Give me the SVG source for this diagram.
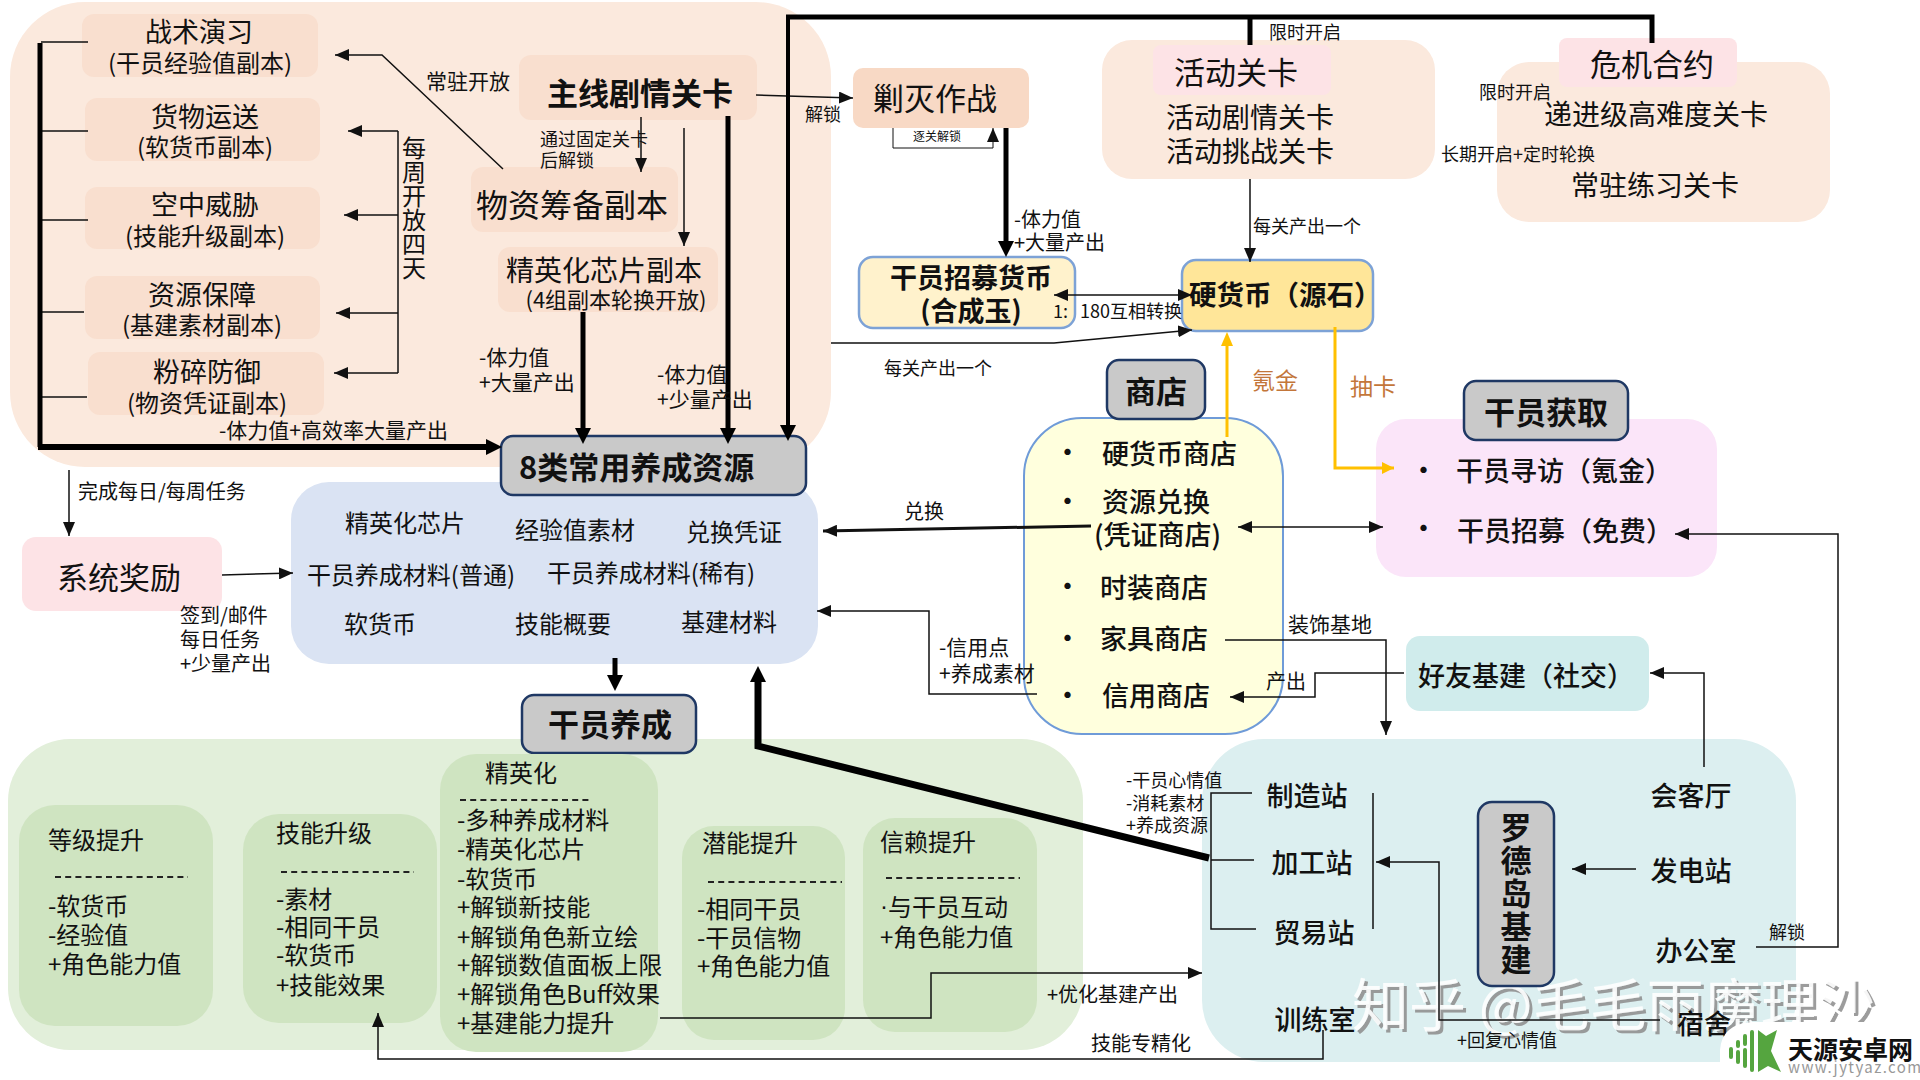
<svg xmlns="http://www.w3.org/2000/svg" width="1920" height="1080" viewBox="0 0 1920 1080">
<style>
text{font-family:"Noto Sans CJK SC","Noto Sans",sans-serif;fill:#111;dominant-baseline:central;transform:translateY(-2px)}
.c{text-anchor:middle}
.t31{font-size:31px}.t27{font-size:27px}.t24{font-size:24px}.t21{font-size:21px}.t20{font-size:20px}.t18{font-size:18px}
.b{font-weight:700}.m{font-weight:500}
.panel{stroke:none}
.peach{fill:#fbe9dd}.peach2{fill:#f9dfcf}.pink{fill:#fde3e6}.card{fill:#cfe4c1}
.head{fill:#c9c9c9;stroke:#1f3864;stroke-width:2.5}
.ln{fill:none;stroke:#111;stroke-width:1.5}
.th{fill:none;stroke:#000;stroke-width:5}
.or{fill:none;stroke:#ffc000;stroke-width:3}
.ds{stroke:#222;stroke-width:2;stroke-dasharray:6 4.2}
.a{marker-end:url(#ar)}.ta{marker-end:url(#tar)}.da{marker-end:url(#ar);marker-start:url(#ar)}.oa{marker-end:url(#oar)}
.cg{fill:#c3763a}
.wm{font-size:57px;fill:#fff;fill-opacity:.88;filter:url(#sh)}
</style>
<defs>
<marker id="ar" markerUnits="userSpaceOnUse" markerWidth="14" markerHeight="12" refX="14" refY="6" orient="auto-start-reverse"><path d="M0 0L14 6L0 12Z" fill="#111"/></marker>
<marker id="tar" markerUnits="userSpaceOnUse" markerWidth="16" markerHeight="16" refX="8" refY="8" orient="auto"><path d="M0 0L16 8L0 16Z" fill="#000"/></marker>
<marker id="oar" markerUnits="userSpaceOnUse" markerWidth="12" markerHeight="12" refX="12" refY="6" orient="auto"><path d="M0 0L12 6L0 12Z" fill="#ffc000"/></marker>
<filter id="sh" x="-5%" y="-20%" width="110%" height="140%"><feDropShadow dx="3" dy="3" stdDeviation="0.6" flood-color="#8f8f8f"/></filter>
</defs>

<g id="panels">
<rect id="panel-stages" class="panel peach" x="10" y="2" width="821" height="465" rx="75"/>
<rect id="panel-resources" class="panel" x="291" y="482" width="527" height="182" rx="38" fill="#dae3f3"/>
<rect id="panel-growth" class="panel" x="8" y="739" width="1075" height="311" rx="62" fill="#e2efda"/>
<rect id="panel-base" class="panel" x="1202" y="739" width="594" height="323" rx="62" fill="#dceff0"/>
</g>

<g id="node-drill"><rect class="peach2" x="82" y="14" width="236" height="63" rx="12"/><text class="c t27" x="199" y="32">战术演习</text><text class="c t24" x="200" y="63">(干员经验值副本)</text></g>
<g id="node-cargo"><rect class="peach2" x="85" y="98" width="235" height="63" rx="12"/><text class="c t27" x="205" y="117">货物运送</text><text class="c t24" x="205" y="147">(软货币副本)</text></g>
<g id="node-air"><rect class="peach2" x="85" y="187" width="235" height="62" rx="12"/><text class="c t27" x="205" y="205">空中威胁</text><text class="c t24" x="205" y="236">(技能升级副本)</text></g>
<g id="node-supply"><rect class="peach2" x="85" y="276" width="235" height="63" rx="12"/><text class="c t27" x="202" y="295">资源保障</text><text class="c t24" x="202" y="325">(基建素材副本)</text></g>
<g id="node-defense"><rect class="peach2" x="88" y="352" width="236" height="63" rx="12"/><text class="c t27" x="207" y="372">粉碎防御</text><text class="c t24" x="207" y="403">(物资凭证副本)</text></g>
<g id="node-main"><rect class="peach2" x="519" y="55" width="238" height="65" rx="12"/><text class="c t31 b" x="640" y="93">主线剧情关卡</text></g>
<g id="node-material"><rect class="peach2" x="471" y="167" width="207" height="65" rx="12"/><text class="c" style="font-size:32px" x="572" y="205">物资筹备副本</text></g>
<g id="node-chip"><rect class="peach2" x="498" y="247" width="220" height="65" rx="12"/><text class="c" style="font-size:28px" x="604" y="271">精英化芯片副本</text><text class="c" style="font-size:22px" x="616" y="300">(4组副本轮换开放)</text></g>
<g id="node-annihilate"><rect fill="#f8d9c5" x="853" y="68" width="176" height="60" rx="10"/><text class="c t31" x="935" y="98">剿灭作战</text></g>
<g id="node-event"><rect class="peach" x="1102" y="40" width="333" height="139" rx="30"/><rect class="pink" x="1153" y="45" width="178" height="50" rx="8"/><text class="c t31" x="1236" y="72">活动关卡</text><text class="c" style="font-size:28px" x="1250" y="118">活动剧情关卡</text><text class="c" style="font-size:28px" x="1250" y="152">活动挑战关卡</text></g>
<g id="node-contract"><rect class="peach" x="1497" y="62" width="333" height="160" rx="32"/><rect class="pink" x="1559" y="38" width="178" height="49" rx="8"/><text class="c t31" x="1652" y="64">危机合约</text><text class="c" style="font-size:28px" x="1656" y="115">递进级高难度关卡</text><text class="c" style="font-size:28px" x="1655" y="186">常驻练习关卡</text></g>
<g id="node-jade"><rect fill="#fff2cc" stroke="#7da2d6" stroke-width="2.5" x="859" y="257" width="216" height="71" rx="14"/><text class="c t27 b" x="971" y="278">干员招募货币</text><text class="c t27 b" x="971" y="311">(合成玉)</text></g>
<g id="node-hard"><rect fill="#ffe699" stroke="#7da2d6" stroke-width="2.5" x="1182" y="260" width="191" height="71" rx="14"/><text class="b" style="font-size:27.5px" x="1189" y="295">硬货币（源石）</text></g>
<g id="node-system"><rect class="pink" x="22" y="537" width="200" height="74" rx="14"/><text class="c t31" x="119" y="577">系统奖励</text></g>
<g id="node-resources"><rect class="head" x="501" y="436" width="305" height="59" rx="12"/><text class="t31 b" x="519" y="467">8类常用养成资源</text>
<text class="c t24" x="405" y="523">精英化芯片</text><text class="c t24" x="575" y="530">经验值素材</text><text class="c t24" x="734" y="532">兑换凭证</text>
<text class="c t24" x="411" y="575">干员养成材料(普通)</text><text class="c t24" x="651" y="573">干员养成材料(稀有)</text>
<text class="c t24" x="380" y="624">软货币</text><text class="c t24" x="563" y="624">技能概要</text><text class="c t24" x="729" y="622">基建材料</text></g>
<g id="node-shop"><rect fill="#ffffdd" stroke="#6f9bd8" stroke-width="2" x="1024" y="418" width="259" height="316" rx="58"/><rect class="head" x="1107" y="360" width="98" height="59" rx="12"/><text class="c t31 b" x="1156" y="391">商店</text>
<g class="t27 m"><text x="1054" y="452">•</text><text x="1102" y="454">硬货币商店</text><text x="1054" y="501">•</text><text x="1102" y="502">资源兑换</text><text x="1094" y="535">(凭证商店)</text><text x="1054" y="586">•</text><text x="1100" y="588">时装商店</text><text x="1054" y="638">•</text><text x="1100" y="639">家具商店</text><text x="1054" y="695">•</text><text x="1102" y="696">信用商店</text></g></g>
<g id="node-recruit"><rect fill="#fbe5f9" x="1376" y="419" width="341" height="158" rx="30"/><rect class="head" x="1464" y="381" width="164" height="59" rx="12"/><text class="c t31 b" x="1546" y="412">干员获取</text>
<g class="t27 m"><text x="1410" y="470">•</text><text x="1456" y="471">干员寻访（氪金）</text><text x="1410" y="528">•</text><text x="1457" y="531">干员招募（免费）</text></g></g>
<g id="node-friend"><rect fill="#d0ecec" x="1406" y="636" width="243" height="75" rx="14"/><text class="t27 m" x="1418" y="676">好友基建（社交）</text></g>
<g id="node-growth-title"><rect class="head" x="522" y="695" width="174" height="58" rx="12"/><text class="c t31 b" x="610" y="724">干员养成</text></g>

<g id="node-level"><rect class="card" x="19" y="805" width="194" height="221" rx="36"/><text class="t24" x="48" y="840">等级提升</text><line class="ds" x1="55" y1="877" x2="188" y2="877"/><text class="t24" x="48" y="906">-软货币</text><text class="t24" x="48" y="935">-经验值</text><text class="t24" x="48" y="964">+角色能力值</text></g>
<g id="node-skill"><rect class="card" x="243" y="814" width="194" height="209" rx="36"/><text class="t24" x="276" y="833">技能升级</text><line class="ds" x1="281" y1="872" x2="414" y2="872"/><text class="t24" x="276" y="899">-素材</text><text class="t24" x="276" y="927">-相同干员</text><text class="t24" x="276" y="955">-软货币</text><text class="t24" x="276" y="985">+技能效果</text></g>
<g id="node-elite"><rect class="card" x="440" y="754" width="218" height="298" rx="36"/><text class="t24" x="485" y="773">精英化</text><line class="ds" x1="460" y1="800" x2="592" y2="800"/><text class="t24" x="457" y="820">-多种养成材料</text><text class="t24" x="457" y="849">-精英化芯片</text><text class="t24" x="457" y="879">-软货币</text><text class="t24" x="457" y="907">+解锁新技能</text><text class="t24" x="457" y="937">+解锁角色新立绘</text><text class="t24" x="457" y="965">+解锁数值面板上限</text><text class="t24" x="457" y="994">+解锁角色Buff效果</text><text class="t24" x="457" y="1023">+基建能力提升</text></g>
<g id="node-potential"><rect class="card" x="682" y="826" width="163" height="214" rx="32"/><text class="t24" x="702" y="843">潜能提升</text><line class="ds" x1="708" y1="882" x2="842" y2="882"/><text class="t24" x="697" y="909">-相同干员</text><text class="t24" x="697" y="938">-干员信物</text><text class="t24" x="697" y="966">+角色能力值</text></g>
<g id="node-trust"><rect class="card" x="863" y="818" width="174" height="214" rx="32"/><text class="t24" x="880" y="842">信赖提升</text><line class="ds" x1="886" y1="878" x2="1020" y2="878"/><text class="t24" x="880" y="907"><tspan style="font-family:'Liberation Sans',sans-serif">·</tspan>与干员互动</text><text class="t24" x="880" y="937">+角色能力值</text></g>

<g id="watermark">
<text class="wm" x="1352" y="1003">知乎 @毛毛雨魔理沙</text>
</g>

<g id="node-base"><rect class="head" x="1478" y="802" width="76" height="184" rx="14"/><text class="t31 b" x="1516" y="814" style="writing-mode:vertical-rl;letter-spacing:2px">罗德岛基建</text>
<text class="c t27 m" x="1307" y="796">制造站</text><text class="c t27 m" x="1312" y="863">加工站</text><text class="c t27 m" x="1314" y="933">贸易站</text><text class="c t27 m" x="1315" y="1020">训练室</text>
<text class="c t27 m" x="1691" y="796">会客厅</text><text class="c t27 m" x="1691" y="871">发电站</text><text class="c t27 m" x="1696" y="951">办公室</text><text class="c t27 m" x="1704" y="1024">宿舍</text></g>

<g id="connectors">
<path class="ln" d="M41 42H88M41 131H88M41 220H88M41 312H84M41 397H87"/>
<path d="M40 43V447" fill="none" stroke="#000" stroke-width="5"/>
<path style="stroke-width:6" d="M38 447H494" class="th ta"/>
<path class="ln a" d="M503 169L382 55H335"/>
<path class="ln" d="M398 131V373"/>
<path class="ln a" d="M398 131H348"/><path class="ln a" d="M398 215H344"/><path class="ln a" d="M398 313H336"/><path class="ln a" d="M398 373H334"/>
<path class="ln a" d="M756 95L853 98"/>
<path class="ln a" d="M641 117V172"/><path class="ln a" d="M684 128V246"/>
<path class="th ta" d="M583 312V436"/><path class="th ta" d="M728 116V436"/>
<path class="th ta" style="stroke-width:4" d="M788 17V433"/>
<path class="th" d="M786 17H1652V43"/><path class="th" d="M1250 17V45"/>
<path class="ln a" style="stroke-width:1" d="M893 128V148H993V128"/>
<path class="th ta" d="M1006 128V249"/>
<path class="ln a" d="M1250 179V262"/>
<path class="ln da" d="M1054 295H1192"/>
<path class="ln a" d="M831 343H1054L1192 330"/>
<path class="or" d="M1227 437V345"/><path d="M1227 332L1221 346H1233Z" fill="#ffc000"/>
<path class="or oa" d="M1335 327V468H1394"/>
<path class="ln a" d="M69 470V536"/>
<path class="ln a" d="M222 575L293 573"/>
<path class="th ta" d="M615 658V683"/>
<path class="ln a" style="stroke-width:3" d="M1091 526L823 531"/>
<path class="ln da" d="M1238 527H1383"/>
<path class="ln a" d="M1037 694H929V611H817"/>
<path class="ln a" d="M1225 640H1386V735"/>
<path class="ln a" d="M1404 673H1315V697H1230"/>
<path class="ln a" d="M1756 947H1838V534H1675"/>
<path class="ln a" d="M1704 767V673H1650"/>
<path class="ln a" d="M1636 869H1572"/>
<path class="ln a" d="M1660 1020H1439V862H1376"/>
<path class="ln" d="M1252 793H1211V929H1256M1211 860H1254"/><path class="ln" d="M1373 793V929"/>
<path class="th ta" style="stroke-width:7" d="M1209 858L758 746V674"/>
<path class="ln a" d="M660 1018H931V973H1202"/>
<path class="ln a" d="M1323 1030V1059H378V1013"/>
</g>

<g id="labels">
<text class="t21" x="426" y="82">常驻开放</text>
<text class="t24" x="414" y="138" style="writing-mode:vertical-rl">每周开放四天</text>
<text class="t18" x="540" y="140">通过固定关卡</text><text class="t18" x="540" y="161">后解锁</text>
<text class="t18" x="805" y="115">解锁</text>
<text class="t21" x="479" y="358">-体力值</text><text class="t21" x="479" y="383">+大量产出</text>
<text class="t21" x="657" y="375">-体力值</text><text class="t21" x="657" y="400">+少量产出</text>
<text class="t21" x="219" y="431">-体力值+高效率大量产出</text>
<text class="t18" x="1269" y="33">限时开启</text><text class="c t18" x="1515" y="93">限时开启</text><text class="t18" x="1441" y="155">长期开启+定时轮换</text>
<text class="c" style="font-size:12px" x="937" y="137">逐关解锁</text>
<text class="t20" x="1014" y="220">-体力值</text><text class="t20" x="1014" y="243">+大量产出</text>
<text class="t18" x="1253" y="227">每关产出一个</text>
<text class="t18" x="1053" y="312">1:</text><text class="t18" x="1080" y="312">180互相转换</text>
<text class="t18" x="884" y="369">每关产出一个</text>
<text class="c cg" style="font-size:23px" x="1275" y="381">氪金</text><text class="c cg" style="font-size:23px" x="1373" y="387">抽卡</text>
<text class="t20" x="78" y="492">完成每日/每周任务</text>
<text class="t20" x="180" y="616">签到/邮件</text><text class="t20" x="180" y="640">每日任务</text><text class="t20" x="180" y="664">+少量产出</text>
<text class="c t20" x="924" y="512">兑换</text>
<text class="t21" x="939" y="648">-信用点</text><text class="t21" x="939" y="674">+养成素材</text>
<text class="t21" x="1288" y="625">装饰基地</text><text class="t20" x="1266" y="682">产出</text>
<text class="t18" x="1126" y="781">-干员心情值</text><text class="t18" x="1126" y="804">-消耗素材</text><text class="t18" x="1126" y="826">+养成资源</text>
<text class="t18" x="1769" y="933">解锁</text>
<text class="t20" x="1047" y="995">+优化基建产出</text>
<text class="t20" x="1091" y="1044">技能专精化</text>
<text class="t18" x="1457" y="1041">+回复心情值</text>
</g>

<g id="logo">
<path d="M1720 1080V1050Q1722 1024 1752 1022H1920V1080Z" fill="#fff"/>
<g fill="none" stroke="#55a53f" stroke-width="4" stroke-linecap="round"><path d="M1731 1049V1057M1738 1042V1046M1738 1052V1062M1745 1036V1044M1745 1050V1066M1752 1032V1070"/></g>
<path d="M1758 1030L1766 1036L1777 1030L1771 1051L1781 1072L1768 1066L1758 1072Z" fill="#55a53f"/>
<text class="b" style="font-size:25px" x="1788" y="1050">天源安卓网</text>
<text style="font-size:15px;letter-spacing:1.4px;fill:#999" x="1788" y="1068">www.jytyaz.com</text>
</g>
</svg>
